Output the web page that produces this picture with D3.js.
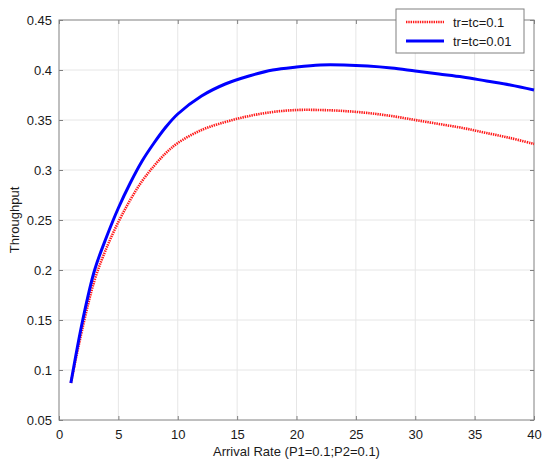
<!DOCTYPE html>
<html>
<head>
<meta charset="utf-8">
<script src="https://cdn.jsdelivr.net/npm/d3@7"></script>
<style>
body { margin: 0; background: #fff; }
svg { display: block; font-family: "Liberation Sans", Arial, sans-serif; }
</style>
</head>
<body>
<svg></svg>
<script>
var viewWidth = 542;
var viewHeight = 462;

// data
var arrivalRate = [1, 2, 3, 4, 5, 6, 7, 8, 9, 10, 12, 14, 16, 18, 20, 22, 24, 26, 28, 30, 32, 34, 36, 38, 40];
var throughputA = [0.087, 0.143, 0.190, 0.222, 0.248, 0.270, 0.289, 0.304, 0.317, 0.327, 0.340, 0.348, 0.354, 0.358, 0.360, 0.360, 0.359, 0.357, 0.354, 0.350, 0.346, 0.342, 0.337, 0.332, 0.326];
var throughputB = [0.087, 0.150, 0.200, 0.233, 0.262, 0.287, 0.309, 0.327, 0.343, 0.356, 0.374, 0.386, 0.394, 0.400, 0.403, 0.405, 0.405, 0.404, 0.402, 0.399, 0.396, 0.393, 0.389, 0.385, 0.380];
var seriesNames = ["tr=tc=0.1", "tr=tc=0.01"];
var xTicks = [0, 5, 10, 15, 20, 25, 30, 35, 40];
var yTicks = [0.05, 0.1, 0.15, 0.2, 0.25, 0.3, 0.35, 0.4, 0.45];

var margin = {top: 20, right: 8, bottom: 42, left: 59};
var w = viewWidth - margin.left - margin.right;
var h = viewHeight - margin.top - margin.bottom;

var svg = d3.select("svg")
    .attr("width", viewWidth)
    .attr("height", viewHeight);

var g = svg.append("g")
    .attr("transform", "translate(" + margin.left + "," + margin.top + ")");

var xScale = d3.scaleLinear().domain([0, 40]).range([0, w]);
var yScale = d3.scaleLinear().domain([0.05, 0.45]).range([h, 0]);

var axisColor = "#808080";

// grid
g.append("g").selectAll("line")
    .data(xTicks.slice(1, -1))
    .enter().append("line")
    .attr("x1", function (d) { return xScale(d); })
    .attr("x2", function (d) { return xScale(d); })
    .attr("y1", 0).attr("y2", h)
    .attr("stroke", "#e6e6e6");

g.append("g").selectAll("line")
    .data(yTicks.slice(1, -1))
    .enter().append("line")
    .attr("y1", function (d) { return yScale(d); })
    .attr("y2", function (d) { return yScale(d); })
    .attr("x1", 0).attr("x2", w)
    .attr("stroke", "#e6e6e6");

// axes, ticks inside
function styleAxis(sel) {
    sel.select(".domain").remove();
    sel.selectAll("line").attr("stroke", axisColor);
    sel.selectAll("text").attr("fill", "#1a1a1a").style("font-size", "13px");
}

g.append("g")
    .attr("transform", "translate(0," + h + ")")
    .call(d3.axisBottom(xScale).tickValues(xTicks).tickSize(-4).tickPadding(10))
    .call(styleAxis);

g.append("g")
    .call(d3.axisTop(xScale).tickValues(xTicks).tickSize(-4).tickFormat(""))
    .call(styleAxis);

g.append("g")
    .call(d3.axisLeft(yScale).tickValues(yTicks).tickSize(-4).tickPadding(7)
        .tickFormat(function (d) { return String(+d.toFixed(2)); }))
    .call(styleAxis);

g.append("g")
    .attr("transform", "translate(" + w + ",0)")
    .call(d3.axisRight(yScale).tickValues(yTicks).tickSize(-4).tickFormat(""))
    .call(styleAxis);

g.append("rect")
    .attr("width", w).attr("height", h)
    .attr("fill", "none")
    .attr("stroke", axisColor);

// curves
var line = d3.line()
    .x(function (d) { return xScale(d[0]); })
    .y(function (d) { return yScale(d[1]); })
    .curve(d3.curveCatmullRom.alpha(0.5));

g.append("path")
    .datum(d3.zip(arrivalRate, throughputA))
    .attr("d", line)
    .attr("fill", "none")
    .attr("stroke", "#ff1a1a")
    .attr("stroke-width", 2.6)
    .attr("stroke-dasharray", "1.4,0.9");

g.append("path")
    .datum(d3.zip(arrivalRate, throughputB))
    .attr("d", line)
    .attr("fill", "none")
    .attr("stroke", "#0000ff")
    .attr("stroke-width", 3);

// labels
svg.append("text")
    .attr("x", margin.left + w / 2)
    .attr("y", 456)
    .attr("text-anchor", "middle")
    .style("font-size", "13px")
    .attr("fill", "#1a1a1a")
    .text("Arrival Rate (P1=0.1;P2=0.1)");

svg.append("text")
    .attr("transform", "translate(19," + (margin.top + h / 2) + ") rotate(-90)")
    .attr("text-anchor", "middle")
    .style("font-size", "13px")
    .attr("fill", "#1a1a1a")
    .text("Throughput");

// legend
var legend = svg.append("g").attr("transform", "translate(396,9)");
legend.append("rect")
    .attr("width", 128).attr("height", 44)
    .attr("fill", "#fff")
    .attr("stroke", axisColor);

var rows = legend.selectAll("g.row")
    .data(seriesNames)
    .enter().append("g")
    .attr("class", "row")
    .attr("transform", function (d, i) { return "translate(0," + (13 + i * 19) + ")"; });

rows.append("line")
    .attr("x1", 10).attr("x2", 48)
    .attr("stroke", function (d, i) { return i === 0 ? "#ff1a1a" : "#0000ff"; })
    .attr("stroke-width", function (d, i) { return i === 0 ? 2.6 : 3; })
    .attr("stroke-dasharray", function (d, i) { return i === 0 ? "1.4,0.9" : null; });

rows.append("text")
    .attr("x", 57).attr("y", 5)
    .style("font-size", "13px")
    .attr("fill", "#1a1a1a")
    .text(function (d) { return d; });
</script>
</body>
</html>
